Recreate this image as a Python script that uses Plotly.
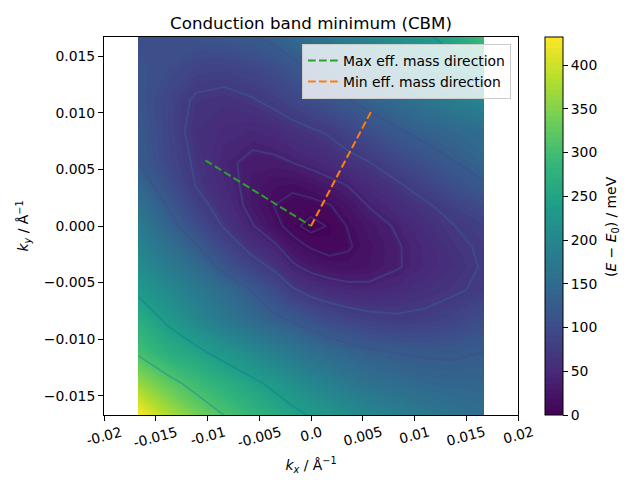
import plotly.graph_objects as go

# Values (k in 1/Angstrom, E in meV)
kx = [-0.0167, -0.0139, -0.0111, -0.00835, -0.0056, -0.0036, -0.0018, 0.0,
      0.0018, 0.0036, 0.0056, 0.00835, 0.0111, 0.0139, 0.0167]
ky = [0.0167, 0.0139, 0.0111, 0.00835, 0.0056, 0.0036, 0.0018, 0.0,
      -0.0018, -0.0036, -0.0056, -0.00835, -0.0111, -0.0139, -0.0167]
energy = [
    [106, 108, 111, 117, 123, 132, 146, 159, 172, 186, 199, 217, 234, 258, 299],
    [111, 102, 88, 86, 93, 102, 114, 127, 141, 153, 166, 186, 204, 222, 241],
    [114, 91, 67, 62, 70, 80, 91, 102, 113, 124, 135, 150, 166, 182, 198],
    [121, 91, 60, 52, 47, 52, 61, 68, 76, 89, 104, 121, 135, 144, 153],
    [125, 95, 67, 43, 32, 33, 38, 45, 53, 62, 71, 91, 107, 124, 140],
    [144, 107, 71, 49, 28, 19, 17, 22, 30, 39, 53, 68, 87, 106, 121],
    [161, 123, 85, 57, 28, 14, 9, 9, 13, 24, 39, 54, 68, 85, 102],
    [179, 140, 102, 69, 39, 20, 7, 0, 5, 15, 27, 41, 57, 72, 83],
    [195, 159, 127, 91, 60, 43, 22, 12, 7, 12, 22, 36, 50, 65, 77],
    [212, 181, 149, 115, 85, 67, 43, 30, 22, 20, 24, 36, 49, 60, 75],
    [231, 205, 176, 149, 121, 98, 75, 60, 53, 47, 45, 51, 60, 68, 78],
    [270, 234, 202, 173, 148, 133, 123, 110, 98, 90, 83, 78, 80, 89, 104],
    [302, 269, 249, 224, 202, 186, 170, 156, 146, 137, 129, 123, 120, 120, 125],
    [365, 325, 295, 271, 248, 231, 215, 200, 187, 173, 161, 152, 143, 140, 140],
    [432, 380, 340, 309, 283, 265, 250, 237, 224, 212, 200, 186, 173, 164, 155],
]
contour_levels = [4, 14, 38, 72, 125, 240, 310]
contour_colors = ["rgba(60,70,135,0.55)", "rgba(60,70,135,0.5)", "rgba(60,85,139,0.5)",
                  "rgba(55,95,140,0.55)", "rgba(62,80,138,0.7)", "rgba(30,130,142,0.65)",
                  "rgba(33,160,135,0.7)"]

max_dir_x = [-0.0102, 0.0]
max_dir_y = [0.0058, 0.0]
min_dir_x = [0.0, 0.0058]
min_dir_y = [0.0, 0.0101]

x_tickvals = [-0.02, -0.015, -0.01, -0.005, 0.0, 0.005, 0.01, 0.015, 0.02]
x_ticktext = ["-0.02", "-0.015", "-0.01", "-0.005", "0.0", "0.005", "0.01", "0.015", "0.02"]
y_tickvals = [-0.015, -0.01, -0.005, 0.0, 0.005, 0.01, 0.015]
y_ticktext = ["\u22120.015", "\u22120.010", "\u22120.005", "0.000", "0.005", "0.010", "0.015"]
cbar_tickvals = [0, 50, 100, 150, 200, 250, 300, 350, 400]

FONT = "DejaVu Sans"
z = energy[::-1]
y = ky[::-1]

fig = go.Figure()
fig.add_trace(go.Contour(
    x=kx, y=y, z=z, colorscale="Viridis", zmin=0, zmax=432, zauto=False,
    autocontour=False,
    contours=dict(start=0, end=432, size=6, coloring="fill", showlines=False),
    line=dict(width=0, smoothing=0), hoverinfo="skip", showlegend=False,
    colorbar=dict(
        x=(545 - 104) / 414, xanchor="left", xref="paper", y=0.5, yanchor="middle", len=1, lenmode="fraction",
        thickness=18, thicknessmode="pixels", outlinecolor="black", outlinewidth=1,
        tickvals=cbar_tickvals, ticks="outside", ticklen=5, tickcolor="black",
        tickfont=dict(family=FONT, size=13.9, color="black"), borderwidth=0, xpad=0, ypad=0,
    ),
))
for level, color in zip(contour_levels, contour_colors):
    fig.add_trace(go.Contour(
        x=kx, y=y, z=z, showscale=False, autocontour=False,
        contours=dict(start=level, end=level, size=1, coloring="none", showlabels=False),
        line=dict(color=color, width=1.8, smoothing=0), hoverinfo="skip", showlegend=False,
    ))
fig.add_trace(go.Scatter(x=max_dir_x, y=max_dir_y, mode="lines", name="Max eff. mass direction",
                         line=dict(color="#2ca02c", width=2, dash="7.7px,3.3px")))
fig.add_trace(go.Scatter(x=min_dir_x, y=min_dir_y, mode="lines", name="Min eff. mass direction",
                         line=dict(color="#ff7f0e", width=2, dash="7.7px,3.3px")))

axis_common = dict(showgrid=False, zeroline=False, showline=True, mirror=True, linecolor="black",
                   linewidth=1, ticks="outside", ticklen=5, tickcolor="black",
                   tickfont=dict(family=FONT, size=13.9, color="black"))

# Rotated x tick labels are centred on their ticks, which plotly's own labels do not do.
annotations = [dict(text=label, x=value, xref="x", y=(415 - 421) / 378, yref="paper", showarrow=False,
                    textangle=-15, xanchor="center", yanchor="top",
                    font=dict(family=FONT, size=13.9, color="black"))
               for value, label in zip(x_tickvals, x_ticktext)]
annotations.append(dict(text="(<i>E</i> \u2212 <i>E</i><sub>0</sub>) / meV", xref="paper", yref="paper",
                        x=(612 - 104) / 414, y=(415 - 227) / 378, showarrow=False, textangle=-90,
                        xanchor="center", yanchor="middle", font=dict(family=FONT, size=13.9, color="black")))

# The page body adds an 8 px margin, so the figure is 8 px smaller and its margins sit 8 px in.
fig.update_layout(
    width=632, height=472, autosize=False,
    margin=dict(l=96, r=122, t=29, b=65, autoexpand=False),
    paper_bgcolor="white", plot_bgcolor="white",
    font=dict(family=FONT, size=13.9, color="black"),
    title=dict(text="Conduction band minimum (CBM)", x=303 / 632, xanchor="center",
               y=1 - 15 / 472, yanchor="middle", font=dict(family=FONT, size=16.67, color="black")),
    xaxis=dict(range=[-0.02, 0.02], tickvals=x_tickvals, showticklabels=False,
               title=dict(text="<i>k<sub>x</sub></i> / Å<sup>\u22121</sup>", standoff=40,
                          font=dict(family=FONT, size=13.9)), **axis_common),
    yaxis=dict(range=[-0.0167, 0.0167], tickvals=y_tickvals, ticktext=y_ticktext,
               title=dict(text="<i>k<sub>y</sub></i> / Å<sup>\u22121</sup>", standoff=11,
                          font=dict(family=FONT, size=13.9)), **axis_common),
    legend=dict(x=(511 - 104) / 414, xanchor="right", y=(415 - 44) / 378, yanchor="top",
                bgcolor="rgba(255,255,255,0.8)", bordercolor="#cccccc", borderwidth=1,
                font=dict(family=FONT, size=13.9, color="black"), itemwidth=30, tracegroupgap=0),
    annotations=annotations,
)
fig.write_html("out.html")
